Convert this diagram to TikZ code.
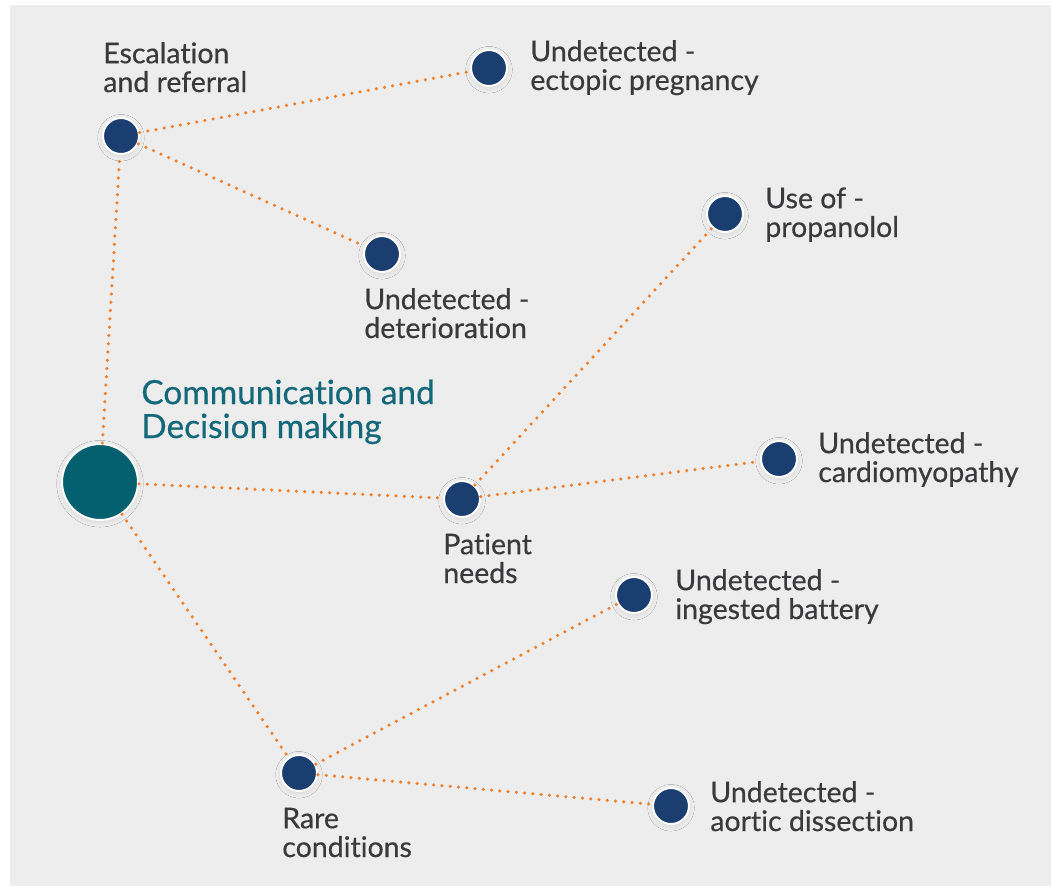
\documentclass[tikz,border=0pt]{standalone}
\usepackage{fontspec}
\setmainfont{Lato}[Ligatures={NoCommon},FakeBold=0.5]
\usetikzlibrary{shadows.blur}
\definecolor{navy}{HTML}{1B3E70}
\definecolor{hubteal}{HTML}{04606E}
\definecolor{headteal}{HTML}{13687A}
\definecolor{linkorange}{HTML}{F07F2A}
\definecolor{textgray}{HTML}{3A3A3C}
\definecolor{panel}{HTML}{EDEDED}

\begin{document}
\begin{tikzpicture}[x=0.02cm,y=-0.02cm,
	leaf/.style={circle,draw=white,line width=0.04cm,fill=navy,minimum size=0.72cm,inner sep=0pt,
		blur shadow={shadow blur steps=10,shadow xshift=0pt,shadow yshift=-1pt,shadow blur radius=3pt,shadow opacity=10}},
	hub/.style={leaf,fill=hubteal,minimum size=1.52cm},
	txt/.style={anchor=base west,align=left,inner sep=0pt,text=textgray,font=\fontsize{16.2}{16.4}\selectfont},
	head/.style={txt,text=headteal,font=\fontsize{19}{19.3}\selectfont},
	link/.style={draw=linkorange,line width=0.07cm,line cap=round,dash pattern=on 0pt off 0.166cm}]
	
	\useasboundingbox (0,0) rectangle (1051,886);
	\fill[panel] (10,5) rectangle (1051,886);
	
	% circles
	\node[hub] (comm) at (100,482) {};
	\node[leaf] (esc) at (121,136) {};
	\node[leaf] (ectopic) at (489,68) {};
	\node[leaf] (deter) at (382,254) {};
	\node[leaf] (needs) at (462,499) {};
	\node[leaf] (propa) at (725,214) {};
	\node[leaf] (cardio) at (779,459) {};
	\node[leaf] (rare) at (299,773) {};
	\node[leaf] (battery) at (634,595) {};
	\node[leaf] (aortic) at (671,806) {};
	
	% dotted links
	\draw[link] (comm) -- (esc);
	\draw[link] (comm) -- (needs);
	\draw[link] (comm) -- (rare);
	\draw[link] (esc) -- (ectopic);
	\draw[link] (esc) -- (deter);
	\draw[link] (needs) -- (propa);
	\draw[link] (needs) -- (cardio);
	\draw[link] (rare) -- (battery);
	\draw[link] (rare) -- (aortic);
	
	% labels (anchored on the last line)
	\node[head] (commtxt) at (141,438) {Communication and\\Decision making};
	\node[txt] (esctxt) at (103,92) {Escalation\\and referral};
	\node[txt] (ectopictxt) at (530,90) {Undetected -\\ectopic pregnancy};
	\node[txt] (detertxt) at (364,338) {Undetected -\\deterioration};
	\node[txt] (needstxt) at (443,583) {Patient\\needs};
	\node[txt] (propatxt) at (765,237) {Use of -\\propanolol};
	\node[txt] (cardiotxt) at (818,482) {Undetected -\\cardiomyopathy};
	\node[txt] (raretxt) at (282,857) {Rare\\conditions};
	\node[txt] (batterytxt) at (675,619) {Undetected -\\ingested battery};
	\node[txt] (aortictxt) at (710,831) {Undetected -\\aortic dissection};
\end{tikzpicture}
\end{document}
